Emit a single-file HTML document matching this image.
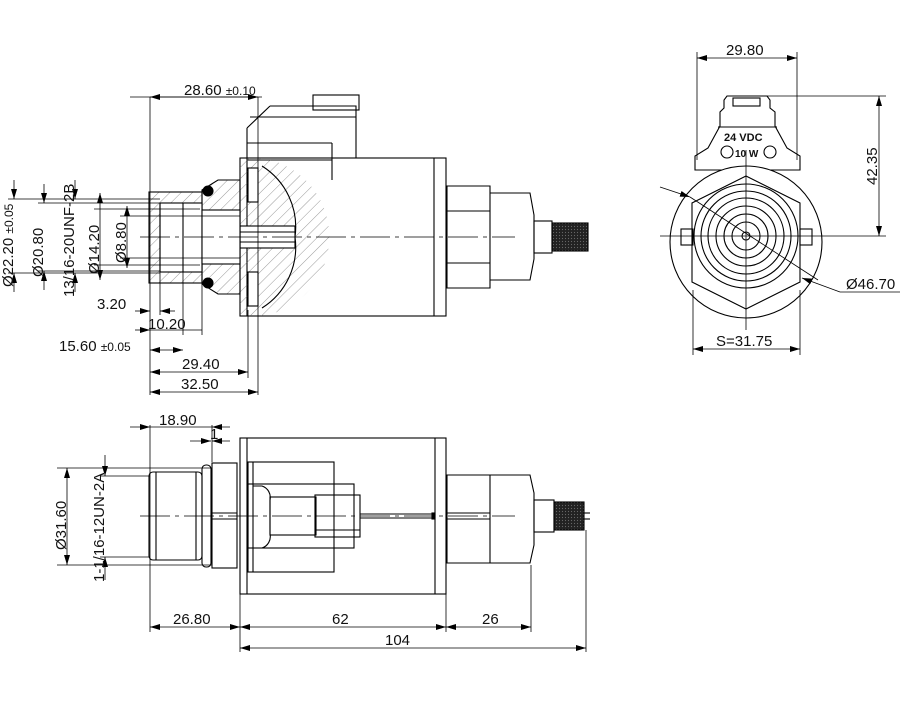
<!DOCTYPE html>
<html><head><meta charset="utf-8"><style>
html,body{margin:0;padding:0;background:#fff}
svg{display:block}
text{font-family:"Liberation Sans",sans-serif;fill:#111}
</style></head><body>
<svg width="900" height="711" viewBox="0 0 900 711" xmlns="http://www.w3.org/2000/svg">
<defs>
<marker id="a" viewBox="0 0 10 6" refX="10" refY="3" markerWidth="10" markerHeight="6" orient="auto-start-reverse" markerUnits="userSpaceOnUse"><path d="M0,0 L10,3 L0,6z" fill="#000"/></marker>
<pattern id="h" width="8" height="8" patternUnits="userSpaceOnUse" patternTransform="rotate(45)"><line x1="0" y1="0" x2="0" y2="8" stroke="#555" stroke-width="0.6"/></pattern>
<pattern id="k" width="3" height="3" patternUnits="userSpaceOnUse"><rect width="3" height="3" fill="#222"/><circle cx="1.5" cy="1.5" r="0.6" fill="#666"/></pattern>
<clipPath id="semi"><path d="M240,158 L262,158 A80,80 0 0 1 262,316 L240,316 Z"/></clipPath>
</defs>
<g fill="none" stroke="#000" stroke-width="1.1">
<!-- connector -->
<rect x="313" y="95" width="46" height="15"/>
<path d="M270,106 L356,106 L356,158 M247,128 L270,106 M247,128 L247,316"/>
<line x1="250" y1="117" x2="356" y2="117"/>
<line x1="247" y1="143" x2="332" y2="143"/>
<line x1="332" y1="143" x2="332" y2="180"/>
<line x1="247" y1="160" x2="332" y2="160"/>
<line x1="335" y1="158" x2="356" y2="158"/>
<rect x="240" y="158" width="206" height="158"/>
<line x1="434" y1="158" x2="434" y2="316"/>
<path d="M240,158 L262,158 A80,80 0 0 1 262,316 L240,316 Z" fill="url(#h)" stroke="none"/>
<path d="M262,166 A72,72 0 0 1 295,237 A72,72 0 0 1 262,308" />
<rect x="248" y="168" width="10" height="34" fill="#fff"/>
<rect x="248" y="272" width="10" height="34" fill="#fff"/>
<rect x="240" y="226" width="55" height="22" fill="#fff"/>
<line x1="240" y1="232" x2="295" y2="232"/><line x1="240" y1="242" x2="295" y2="242"/>
<path d="M202,190 L218,180 L240,180 L240,294 L218,294 L202,284 Z" fill="url(#h)"/>
<rect x="149" y="192" width="53" height="91" fill="url(#h)"/>
<rect x="160" y="203" width="42" height="69" fill="#fff"/>
<rect x="202" y="210" width="38" height="54" fill="#fff"/>
<line x1="160" y1="203" x2="160" y2="272"/>
<line x1="183" y1="203" x2="183" y2="272"/>
<circle cx="208" cy="191" r="5" fill="#000"/>
<circle cx="208" cy="283" r="5" fill="#000"/>
<path d="M447,186 L490,186 L490,288 L447,288 Z"/>
<line x1="447" y1="211" x2="490" y2="211"/><line x1="447" y1="263" x2="490" y2="263"/>
<path d="M490,193 L530,193 L534,215 L534,259 L530,280 L490,280"/>
<rect x="534" y="221" width="18" height="32"/>
<rect x="552" y="223" width="36" height="28" fill="url(#k)"/>
<line x1="140" y1="237" x2="515" y2="237" stroke-width="0.7" stroke-dasharray="30,5,4,5"/>
</g>
<g stroke="#000" stroke-width="0.8" fill="none">
<line x1="150" y1="97" x2="150" y2="395"/>
<line x1="258" y1="97" x2="258" y2="395"/>
<line x1="130" y1="97" x2="262" y2="97"/>
<line x1="150" y1="97" x2="258" y2="97" marker-start="url(#a)" marker-end="url(#a)"/>
<line x1="8" y1="199" x2="160" y2="199"/><line x1="8" y1="273" x2="160" y2="273"/>
<line x1="38" y1="203" x2="160" y2="203"/><line x1="38" y1="271" x2="160" y2="271"/>
<line x1="94" y1="209" x2="200" y2="209"/><line x1="94" y1="265" x2="200" y2="265"/>
<line x1="120" y1="216" x2="240" y2="216"/><line x1="120" y1="258" x2="240" y2="258"/>
<line x1="14" y1="180" x2="14" y2="199" marker-end="url(#a)"/><line x1="14" y1="292" x2="14" y2="273" marker-end="url(#a)"/>
<line x1="44" y1="184" x2="44" y2="203" marker-end="url(#a)"/><line x1="44" y1="290" x2="44" y2="271" marker-end="url(#a)"/>
<line x1="75" y1="180" x2="75" y2="199" marker-end="url(#a)"/><line x1="75" y1="292" x2="75" y2="273" marker-end="url(#a)"/>
<line x1="100" y1="193" x2="100" y2="280" marker-start="url(#a)" marker-end="url(#a)"/>
<line x1="127" y1="206" x2="127" y2="268" marker-start="url(#a)" marker-end="url(#a)"/>
<line x1="160" y1="272" x2="160" y2="315"/><line x1="183" y1="272" x2="183" y2="335"/><line x1="202" y1="283" x2="202" y2="335"/><line x1="248" y1="310" x2="248" y2="378"/>
<line x1="135" y1="311" x2="150" y2="311" marker-end="url(#a)"/><line x1="175" y1="311" x2="160" y2="311" marker-end="url(#a)"/>
<line x1="135" y1="330" x2="150" y2="330" marker-end="url(#a)"/><line x1="150" y1="330" x2="202" y2="330"/>
<line x1="150" y1="350" x2="183" y2="350" marker-start="url(#a)" marker-end="url(#a)"/>
<line x1="150" y1="372" x2="248" y2="372" marker-start="url(#a)" marker-end="url(#a)"/>
<line x1="150" y1="392" x2="258" y2="392" marker-start="url(#a)" marker-end="url(#a)"/>
</g>
<g font-size="15">
<text x="184" y="95">28.60 <tspan font-size="12">±0.10</tspan></text>
<text transform="translate(13,287) rotate(-90)">Ø22.20 <tspan font-size="12">±0.05</tspan></text>
<text transform="translate(43,277) rotate(-90)">Ø20.80</text>
<text transform="translate(74,297) rotate(-90)">13/16-20UNF-2B</text>
<text transform="translate(99,274) rotate(-90)">Ø14.20</text>
<text transform="translate(126,263) rotate(-90)">Ø8.80</text>
<text x="97" y="309">3.20</text>
<text x="148" y="329">10.20</text>
<text x="59" y="351">15.60 <tspan font-size="12">±0.05</tspan></text>
<text x="182" y="369">29.40</text>
<text x="181" y="389">32.50</text>
</g>
<!-- RIGHT VIEW -->
<g fill="none" stroke="#000" stroke-width="1.1">
<path d="M727,96 L767,96 L770,100 L770,108 L775,112 L775,126 L787,148 L800,156 L800,170 L695,170 L695,156 L708,148 L720,126 L720,112 L724,108 L724,100 Z" fill="#fff"/>
<rect x="733" y="98" width="27" height="8"/>
<line x1="718" y1="127" x2="777" y2="127"/>
<circle cx="746" cy="242" r="76" fill="#fff"/>
<polygon points="746,176 800,203 800,282 746,309 692,282 692,203" />
<circle cx="746" cy="236" r="52"/><circle cx="746" cy="236" r="45"/><circle cx="746" cy="236" r="38"/>
<circle cx="746" cy="236" r="30"/><circle cx="746" cy="236" r="22"/><circle cx="746" cy="236" r="14"/><circle cx="746" cy="236" r="4"/>
<rect x="681" y="229" width="12" height="16"/><rect x="800" y="229" width="12" height="16"/>
<circle cx="727" cy="152" r="6"/><circle cx="770" cy="152" r="6"/>
</g>
<g stroke="#000" stroke-width="0.8" fill="none">
<line x1="697" y1="52" x2="697" y2="160"/><line x1="797" y1="52" x2="797" y2="160"/>
<line x1="697" y1="58" x2="797" y2="58" marker-start="url(#a)" marker-end="url(#a)"/>
<line x1="760" y1="96" x2="886" y2="96"/><line x1="660" y1="236" x2="886" y2="236"/>
<line x1="879" y1="96" x2="879" y2="236" marker-start="url(#a)" marker-end="url(#a)"/>
<line x1="746" y1="150" x2="746" y2="330"/>
<line x1="693" y1="290" x2="693" y2="355"/><line x1="800" y1="290" x2="800" y2="355"/>
<line x1="693" y1="349" x2="800" y2="349" marker-start="url(#a)" marker-end="url(#a)"/>
<line x1="660" y1="187" x2="690" y2="197" marker-end="url(#a)"/>
<line x1="690" y1="197" x2="818" y2="280"/>
<line x1="840" y1="292" x2="802" y2="278" marker-end="url(#a)"/>
<line x1="840" y1="292" x2="900" y2="292"/>
</g>
<g font-size="15">
<text x="726" y="55">29.80</text>
<text transform="translate(877,185) rotate(-90)">42.35</text>
<text x="716" y="346">S=31.75</text>
<text x="846" y="289">Ø46.70</text>
<text x="724" y="141" font-size="11" font-weight="bold">24  VDC</text>
<text x="735" y="157" font-size="10" font-weight="bold">10 W</text>
</g>
<!-- BOTTOM VIEW -->
<g fill="none" stroke="#000" stroke-width="1.1">
<rect x="240" y="438" width="206" height="156"/>
<line x1="247" y1="438" x2="247" y2="594"/><line x1="435" y1="438" x2="435" y2="594"/>
<rect x="149" y="472" width="53" height="88" rx="4"/>
<line x1="156" y1="472" x2="156" y2="560"/><line x1="196" y1="472" x2="196" y2="560"/>
<rect x="202" y="465" width="9" height="102" rx="4"/>
<rect x="212" y="463" width="25" height="105"/>
<line x1="212" y1="513" x2="237" y2="513"/><line x1="212" y1="519" x2="237" y2="519"/>
<rect x="248" y="462" width="86" height="110"/>
<line x1="253" y1="462" x2="253" y2="572"/>
<rect x="248" y="484" width="106" height="64"/>
<path d="M253,486 L262,486 A12,12 0 0 1 270,500 L270,534 A12,12 0 0 1 262,548 L253,548"/>
<rect x="270" y="497" width="46" height="38"/>
<rect x="315" y="495" width="45" height="42"/>
<line x1="315" y1="530" x2="360" y2="530"/>
<line x1="360" y1="514" x2="432" y2="514"/><line x1="360" y1="518" x2="432" y2="518"/>
<rect x="432" y="513" width="3" height="6" fill="#000"/>
<path d="M447,475 L490,475 L490,563 L447,563 Z"/>
<line x1="447" y1="513" x2="490" y2="513"/><line x1="447" y1="519" x2="490" y2="519"/>
<path d="M490,475 L530,475 L534,493 L534,545 L530,563 L490,563"/>
<rect x="534" y="500" width="20" height="32"/>
<rect x="554" y="502" width="30" height="28" fill="url(#k)"/>
<line x1="584" y1="513" x2="590" y2="513"/><line x1="584" y1="519" x2="590" y2="519"/>
<line x1="140" y1="516" x2="515" y2="516" stroke-width="0.7" stroke-dasharray="30,5,4,5"/>
</g>
<g stroke="#000" stroke-width="0.8" fill="none">
<line x1="150" y1="425" x2="150" y2="632"/><line x1="212" y1="425" x2="212" y2="462"/>
<line x1="130" y1="427" x2="150" y2="427" marker-end="url(#a)"/><line x1="150" y1="427" x2="212" y2="427"/><line x1="230" y1="427" x2="212" y2="427" marker-end="url(#a)"/>
<line x1="190" y1="441" x2="211" y2="441" marker-end="url(#a)"/><line x1="230" y1="441" x2="212" y2="441" marker-end="url(#a)"/>
<line x1="57" y1="468" x2="212" y2="468"/><line x1="57" y1="565" x2="212" y2="565"/>
<line x1="100" y1="476" x2="150" y2="476"/><line x1="100" y1="557" x2="150" y2="557"/>
<line x1="67" y1="468" x2="67" y2="565" marker-start="url(#a)" marker-end="url(#a)"/>
<line x1="105" y1="455" x2="105" y2="476" marker-end="url(#a)"/><line x1="105" y1="580" x2="105" y2="557" marker-end="url(#a)"/>
<line x1="240" y1="594" x2="240" y2="652"/><line x1="446" y1="594" x2="446" y2="632"/>
<line x1="531" y1="565" x2="531" y2="632"/><line x1="586" y1="530" x2="586" y2="652"/>
<line x1="150" y1="627" x2="240" y2="627" marker-start="url(#a)" marker-end="url(#a)"/>
<line x1="240" y1="627" x2="446" y2="627" marker-start="url(#a)" marker-end="url(#a)"/>
<line x1="446" y1="627" x2="531" y2="627" marker-start="url(#a)" marker-end="url(#a)"/>
<line x1="240" y1="648" x2="586" y2="648" marker-start="url(#a)" marker-end="url(#a)"/>
</g>
<g font-size="15">
<text x="159" y="425">18.90</text>
<text x="210" y="439">1</text>
<text transform="translate(66,550) rotate(-90)">Ø31.60</text>
<text transform="translate(104,582) rotate(-90)">1-1/16-12UN-2A</text>
<text x="173" y="624">26.80</text>
<text x="332" y="624">62</text>
<text x="482" y="624">26</text>
<text x="385" y="645">104</text>
</g>
</svg>
</body></html>
